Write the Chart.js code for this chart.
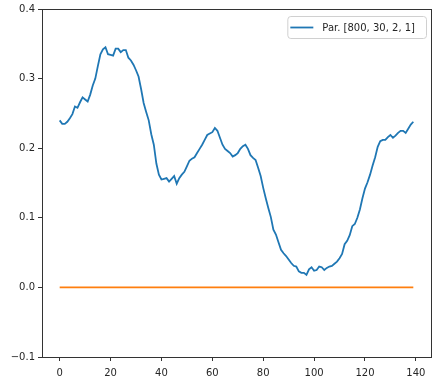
<!DOCTYPE html>
<html>
<head>
<meta charset="utf-8">
<script src="https://cdn.jsdelivr.net/npm/chart.js@4.4.1/dist/chart.umd.min.js"></script>
<style>
  html, body { margin: 0; padding: 0; background: #fff; }
  #wrap { width: 436px; height: 392px; }
</style>
</head>
<body>
<div id="wrap"><canvas id="chart" width="436" height="392"></canvas></div>
<script>
const seriesLabel = 'Par. [800, 30, 2, 1]';

const parValues = [
    0.240, 0.235, 0.235, 0.238, 0.243, 0.249, 0.260, 0.258, 0.266, 0.273,
    0.270, 0.267, 0.277, 0.290, 0.300, 0.318, 0.335, 0.342, 0.345, 0.335,
    0.334, 0.333, 0.343, 0.343, 0.338, 0.341, 0.341, 0.330, 0.326, 0.320,
    0.312, 0.303, 0.285, 0.265, 0.252, 0.240, 0.220, 0.205, 0.178, 0.162,
    0.155, 0.156, 0.157, 0.152, 0.156, 0.160, 0.149, 0.157, 0.162, 0.166,
    0.174, 0.182, 0.185, 0.187, 0.193, 0.199, 0.205, 0.212, 0.219, 0.221,
    0.223, 0.229, 0.225, 0.215, 0.205, 0.199, 0.196, 0.193, 0.188, 0.190,
    0.193, 0.199, 0.203, 0.205, 0.199, 0.190, 0.186, 0.183, 0.172, 0.160,
    0.143, 0.128, 0.114, 0.101, 0.083, 0.076, 0.065, 0.054, 0.049, 0.045,
    0.040, 0.035, 0.031, 0.030, 0.023, 0.021, 0.021, 0.018, 0.026, 0.029,
    0.024, 0.025, 0.030, 0.029, 0.025, 0.028, 0.030, 0.031, 0.034, 0.037,
    0.042, 0.048, 0.062, 0.067, 0.075, 0.088, 0.091, 0.100, 0.112, 0.128,
    0.142, 0.151, 0.162, 0.175, 0.187, 0.202, 0.210, 0.212, 0.212, 0.216,
    0.219, 0.215, 0.218, 0.222, 0.225, 0.225, 0.222, 0.228, 0.234, 0.238
];

const zeroValues = [
    0, 0, 0, 0, 0, 0, 0, 0, 0, 0, 0, 0, 0, 0, 0, 0, 0, 0, 0, 0,
    0, 0, 0, 0, 0, 0, 0, 0, 0, 0, 0, 0, 0, 0, 0, 0, 0, 0, 0, 0,
    0, 0, 0, 0, 0, 0, 0, 0, 0, 0, 0, 0, 0, 0, 0, 0, 0, 0, 0, 0,
    0, 0, 0, 0, 0, 0, 0, 0, 0, 0, 0, 0, 0, 0, 0, 0, 0, 0, 0, 0,
    0, 0, 0, 0, 0, 0, 0, 0, 0, 0, 0, 0, 0, 0, 0, 0, 0, 0, 0, 0,
    0, 0, 0, 0, 0, 0, 0, 0, 0, 0, 0, 0, 0, 0, 0, 0, 0, 0, 0, 0,
    0, 0, 0, 0, 0, 0, 0, 0, 0, 0, 0, 0, 0, 0, 0, 0, 0, 0, 0, 0
];

const xTicks = [0, 20, 40, 60, 80, 100, 120, 140];
const yTicks = [-0.1, 0.0, 0.1, 0.2, 0.3, 0.4];

const textColor = '#262626';
const font = { family: 'DejaVu Sans', size: 10 };

// frame around the plot, like matplotlib spines
const framePlugin = {
    id: 'frame',
    afterDraw(chart) {
        const { ctx, chartArea: a } = chart;
        ctx.save();
        ctx.strokeStyle = '#333';
        ctx.lineWidth = 1;
        ctx.strokeRect(Math.round(a.left) + 0.5, Math.round(a.top) + 0.5,
            Math.round(a.right - a.left), Math.round(a.bottom - a.top));
        ctx.restore();
    }
};

// legend box in the upper right corner (only the first series)
const legendBoxPlugin = {
    id: 'legendBox',
    afterDraw(chart) {
        const { ctx, chartArea: a } = chart;
        const ds = chart.data.datasets[0];
        ctx.save();
        ctx.font = '10px "DejaVu Sans"';
        const tw = ctx.measureText(ds.label).width;
        const w = tw + 46, h = 22;
        const x = a.right - 5 - w, y = a.top + 7;
        ctx.beginPath();
        ctx.roundRect(x + 0.5, y + 0.5, w, h, 3);
        ctx.fillStyle = 'rgba(255,255,255,0.8)';
        ctx.fill();
        ctx.strokeStyle = '#d0d0d0';
        ctx.lineWidth = 1;
        ctx.stroke();
        ctx.beginPath();
        ctx.moveTo(x + 3, y + 11.5);
        ctx.lineTo(x + 26, y + 11.5);
        ctx.strokeStyle = ds.borderColor;
        ctx.lineWidth = 1.8;
        ctx.stroke();
        ctx.fillStyle = textColor;
        ctx.textBaseline = 'middle';
        ctx.fillText(ds.label, x + 35, y + 12);
        ctx.restore();
    }
};

new Chart(document.getElementById('chart'), {
    type: 'line',
    data: {
        datasets: [
            {
                label: seriesLabel,
                data: parValues.map((v, i) => ({ x: i, y: v })),
                borderColor: '#1f77b4',
                borderWidth: 1.8,
                pointRadius: 0,
                tension: 0
            },
            {
                label: 'zero',
                data: zeroValues.map((v, i) => ({ x: i, y: v })),
                borderColor: '#ff7f0e',
                borderWidth: 1.8,
                pointRadius: 0,
                tension: 0
            }
        ]
    },
    options: {
        responsive: false,
        animation: false,
        layout: { padding: { top: 9, right: 5, left: 0, bottom: 0 } },
        plugins: {
            legend: { display: false },
            tooltip: { enabled: false }
        },
        scales: {
            x: {
                type: 'linear',
                min: -6.95,
                max: 145.95,
                afterBuildTicks: (scale) => { scale.ticks = xTicks.map(v => ({ value: v })); },
                afterFit: (scale) => { scale.height = 35; },
                grid: { drawOnChartArea: false, drawTicks: true, tickLength: 4, tickColor: '#333' },
                border: { display: true, color: '#333' },
                ticks: { color: textColor, font: font, padding: 6, maxRotation: 0 }
            },
            y: {
                type: 'linear',
                min: -0.1,
                max: 0.4,
                afterBuildTicks: (scale) => { scale.ticks = yTicks.map(v => ({ value: v })); },
                afterFit: (scale) => { scale.width = 42; },
                grid: { drawOnChartArea: false, drawTicks: true, tickLength: 4, tickColor: '#333' },
                border: { display: true, color: '#333' },
                ticks: {
                    color: textColor,
                    font: font,
                    padding: 3,
                    callback: (v) => v.toFixed(1).replace('-', '\u2212')
                }
            }
        }
    },
    plugins: [framePlugin, legendBoxPlugin]
});
</script>
</body>
</html>
